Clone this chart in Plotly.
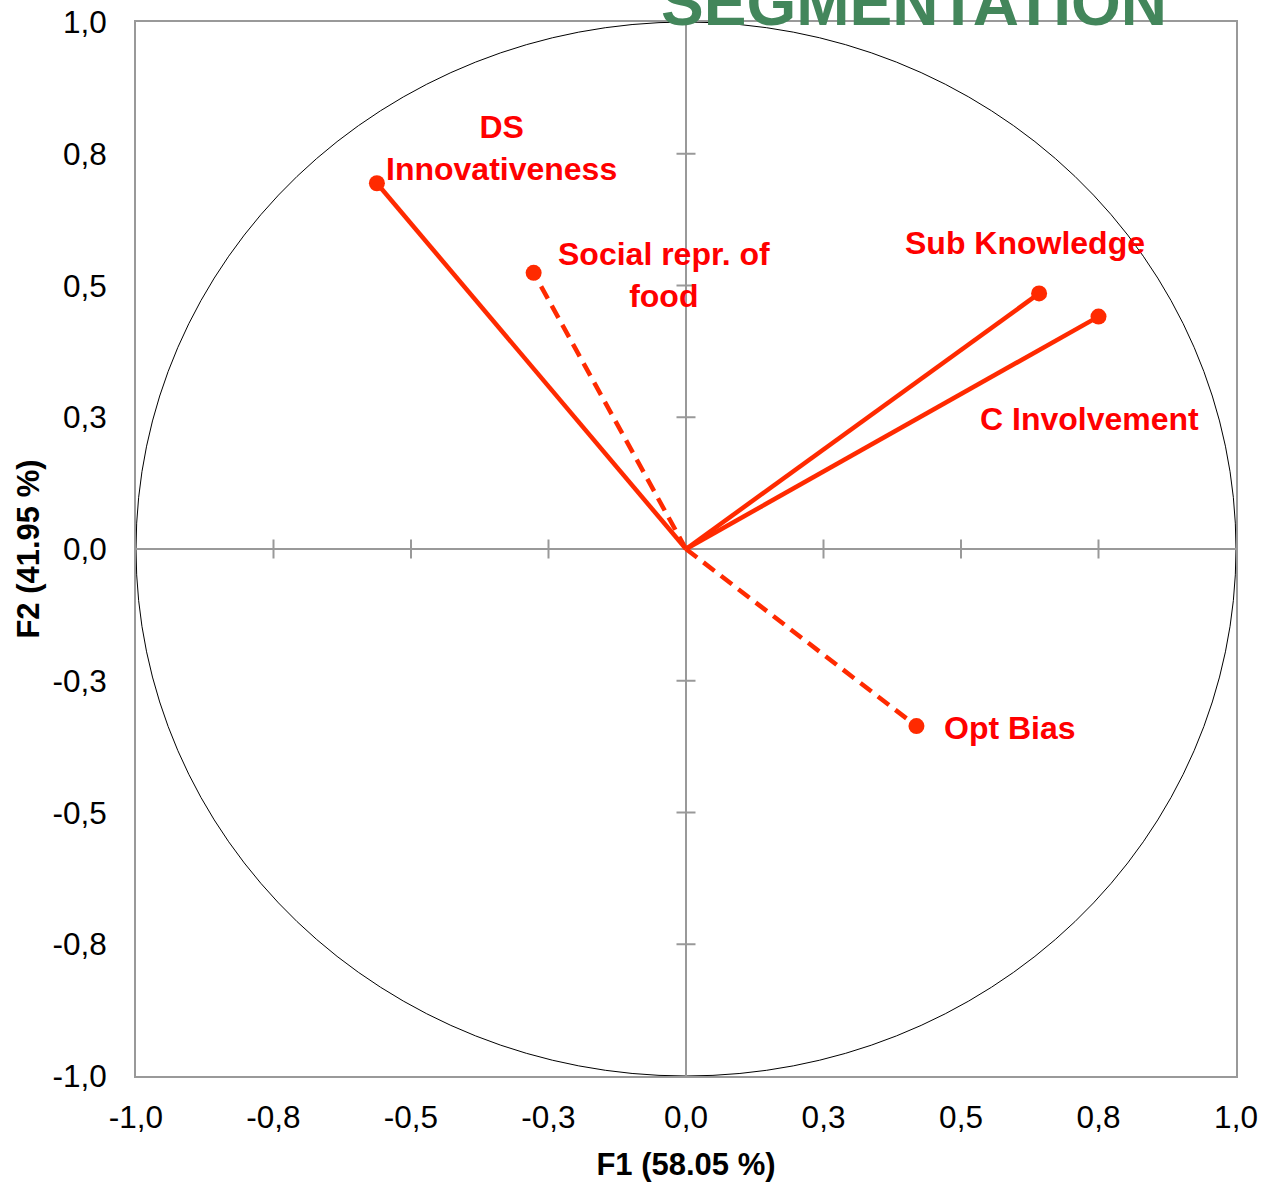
import plotly.graph_objects as go

# ---- data ----
variables = ["DS<br>Innovativeness", "Social repr. of<br>food", "Sub Knowledge", "C Involvement", "Opt Bias"]
f1_values = [-0.562, -0.277, 0.642, 0.750, 0.419]
f2_values = [0.694, 0.524, 0.485, 0.441, -0.336]
dashed = [False, True, False, False, True]

tick_vals = [-1.0, -0.75, -0.5, -0.25, 0.0, 0.25, 0.5, 0.75, 1.0]
tick_text = ["-1,0", "-0,8", "-0,5", "-0,3", "0,0", "0,3", "0,5", "0,8", "1,0"]

x_title = "F1 (58.05 %)"
y_title = "F2 (41.95 %)"
chart_title = "SEGMENTATION"

# label placement (pixel offsets from the point)
label_style = [
    dict(xshift=125, yshift=35, xanchor="center"),
    dict(xshift=130, yshift=-2, xanchor="center"),
    dict(xshift=-14, yshift=50, xanchor="center"),
    dict(xshift=-9, yshift=-102, xanchor="center"),
    dict(xshift=26, yshift=-2, xanchor="left"),
]

FONT = "Liberation Sans, Arial, sans-serif"
LINE_COLOR = "#FF2A00"
LABEL_COLOR = "#FF0000"
AXIS_GRAY = "#999999"

fig = go.Figure()

for name, x, y, d in zip(variables, f1_values, f2_values, dashed):
    fig.add_trace(go.Scatter(
        x=[0, x], y=[0, y],
        mode="lines+markers",
        line=dict(color=LINE_COLOR, width=4.5, dash="14px,8px" if d else "solid"),
        marker=dict(color=LINE_COLOR, size=[0, 16], opacity=1, line=dict(width=0)),
        name=name.replace("<br>", " "),
        showlegend=False,
        cliponaxis=False,
    ))

for name, x, y, st in zip(variables, f1_values, f2_values, label_style):
    fig.add_annotation(
        x=x, y=y, xref="x", yref="y", text=name, showarrow=False,
        xshift=st["xshift"], yshift=st["yshift"], xanchor=st["xanchor"], yanchor="middle",
        font=dict(family=FONT, size=32, color=LABEL_COLOR, weight="bold"),
        align="center",
    )

# unit circle
fig.add_shape(type="circle", xref="x", yref="y", x0=-1, y0=-1, x1=1, y1=1,
              line=dict(color="black", width=1), layer="below")

# crossing tick marks on the zero lines
for t in tick_vals:
    if t in (-1.0, 0.0, 1.0):
        continue
    fig.add_shape(type="line", xref="x", yref="y", ysizemode="pixel", yanchor=0,
                  x0=t, x1=t, y0=-9.5, y1=9.5,
                  line=dict(color=AXIS_GRAY, width=2), layer="below")
    fig.add_shape(type="line", xref="x", yref="y", xsizemode="pixel", xanchor=0,
                  y0=t, y1=t, x0=-9.5, x1=9.5,
                  line=dict(color=AXIS_GRAY, width=2), layer="below")

fig.add_annotation(
    x=0.707, y=1.0185, xref="paper", yref="paper", text=chart_title, showarrow=False,
    xanchor="center", yanchor="middle",
    font=dict(family=FONT, size=64, color="#43865B", weight="bold"),
)

axis_common = dict(
    range=[-1, 1], tickvals=tick_vals, ticktext=tick_text,
    showgrid=False, zeroline=True, zerolinecolor=AXIS_GRAY, zerolinewidth=2,
    showline=True, linecolor=AXIS_GRAY, linewidth=2, mirror=True,
    ticks="", tickfont=dict(family=FONT, size=31.5, color="black"),
    fixedrange=True, automargin=False,
)

fig.update_layout(
    width=1262, height=1182,
    margin=dict(l=136, r=26, t=22, b=106, autoexpand=False),
    plot_bgcolor="white", paper_bgcolor="white",
    xaxis=dict(**axis_common, ticklabelstandoff=12,
               title=dict(text=x_title, standoff=22,
                          font=dict(family=FONT, size=31, color="black", weight="bold"))),
    yaxis=dict(**axis_common, ticklabelstandoff=21,
               title=dict(text=y_title, standoff=4,
                          font=dict(family=FONT, size=31, color="black", weight="bold"))),
    showlegend=False,
)

fig.write_html("out.html")
